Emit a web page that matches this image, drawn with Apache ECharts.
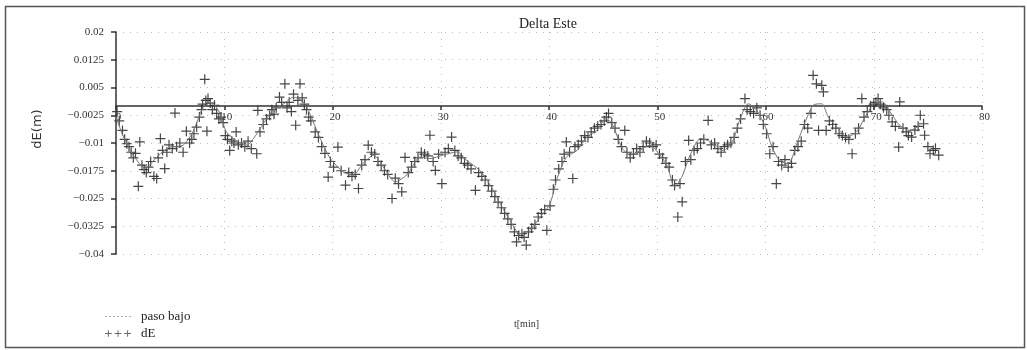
<!DOCTYPE html>
<html>
<head>
<meta charset="utf-8">
<script src="https://cdn.jsdelivr.net/npm/echarts@6/dist/echarts.min.js"></script>
<style>html,body{margin:0;padding:0;background:#fff}#c{width:1027px;height:350px}</style>
</head>
<body>
<div id="c"></div>
<script>
// Tick values / labels
var yTicks = [-0.04, -0.0325, -0.025, -0.0175, -0.01, -0.0025, 0.005, 0.0125, 0.02];
var xTicks = [0, 10, 20, 30, 40, 50, 60, 70, 80];

// Low-pass ("paso bajo") line
var pbT = [0,0.7,1.6,2.7,3.4,4.1,5.0,6.2,7.1,7.9,8.4,9.0,9.6,10.2,11.1,12.1,12.7,13.6,14.5,15.5,16.4,17.3,17.9,18.8,19.8,21.0,21.9,22.8,23.8,24.7,25.8,26.9,28.1,29.0,30.2,31.5,32.4,33.6,34.5,35.5,36.4,37.3,38.2,39.2,40.1,40.7,41.6,42.6,43.5,44.4,45.3,45.9,46.7,47.5,48.4,49.3,49.9,50.9,51.6,52.3,53.0,54.0,54.8,56.1,57.0,57.6,58.4,59.2,60.0,60.6,61.3,62.1,62.9,63.6,64.4,65.2,65.8,66.6,67.5,68.4,69.2,70.0,70.8,71.5,72.4,73.3,74.3];
var pbV = [-0.003,-0.0084,-0.0133,-0.0169,-0.0150,-0.0129,-0.0111,-0.0106,-0.0070,-0.0012,0.0011,0.0006,-0.0020,-0.0070,-0.0093,-0.0106,-0.0088,-0.0048,-0.0012,0.0006,0.0024,0.0011,-0.0020,-0.0084,-0.0142,-0.0178,-0.0187,-0.0156,-0.0133,-0.0165,-0.0205,-0.0185,-0.0138,-0.0142,-0.0133,-0.0124,-0.0147,-0.0174,-0.0210,-0.0264,-0.0309,-0.0345,-0.0336,-0.0300,-0.0264,-0.0200,-0.0138,-0.0120,-0.0084,-0.0066,-0.0034,-0.0052,-0.0111,-0.0133,-0.0120,-0.0106,-0.0120,-0.0160,-0.0218,-0.0190,-0.0135,-0.0088,-0.0095,-0.0120,-0.0093,-0.0039,0.0006,-0.0012,-0.0057,-0.0111,-0.0147,-0.0156,-0.0102,-0.0048,0.0002,0.0006,-0.0030,-0.0057,-0.0084,-0.0070,-0.0030,0.0006,0.0011,-0.0016,-0.0052,-0.0066,-0.0052];

// Raw dE samples
var dET = [0.1,0.3,0.6,0.8,1.0,1.2,1.4,1.6,1.8,2.06,2.2,2.4,2.6,2.8,3.0,3.2,3.5,3.76,3.9,4.1,4.3,4.5,4.7,4.9,5.2,5.45,5.6,5.9,6.2,6.5,6.8,7.0,7.2,7.45,7.7,7.9,8.0,8.2,8.3,8.4,8.5,8.7,8.9,9.1,9.3,9.5,9.7,9.9,10.1,10.3,10.5,10.7,10.9,11.1,11.3,11.6,11.9,12.2,12.5,13.0,13.1,13.3,13.6,13.9,14.2,14.4,14.6,14.8,15.1,15.3,15.6,15.8,16.0,16.2,16.4,16.6,16.8,17.0,17.2,17.4,17.6,17.8,18.0,18.4,18.7,19.0,19.3,19.6,19.8,20.1,20.5,20.8,21.2,21.5,21.8,22.1,22.4,22.7,23.0,23.3,23.6,23.9,24.2,24.5,24.8,25.1,25.5,25.8,26.1,26.4,26.7,27.0,27.3,27.6,27.9,28.2,28.5,28.8,29.0,29.3,29.5,29.8,30.1,30.4,30.7,31.0,31.3,31.6,31.9,32.2,32.5,32.8,33.2,33.5,33.8,34.1,34.4,34.7,35.0,35.3,35.6,35.9,36.2,36.5,36.8,37.0,37.2,37.5,37.7,37.9,38.1,38.4,38.7,39.0,39.3,39.6,39.8,40.1,40.4,40.6,40.9,41.2,41.4,41.6,41.9,42.2,42.4,42.7,43.0,43.3,43.6,43.9,44.2,44.5,44.8,45.1,45.3,45.5,45.8,46.1,46.4,46.7,47.0,47.2,47.5,47.8,48.1,48.4,48.7,49.0,49.3,49.6,49.9,50.2,50.5,50.8,51.1,51.4,51.6,51.9,52.1,52.3,52.6,52.9,53.1,53.4,53.7,54.0,54.3,54.7,55.0,55.3,55.6,55.9,56.2,56.5,56.8,57.1,57.4,57.7,58.1,58.3,58.6,58.9,59.2,59.5,59.8,60.1,60.4,60.7,61.0,61.2,61.5,61.8,62.1,62.4,62.7,63.0,63.3,63.6,63.9,64.2,64.4,64.7,64.9,65.2,65.35,65.6,65.9,66.2,66.5,66.8,67.1,67.4,67.7,68.0,68.3,68.6,68.9,69.1,69.4,69.7,70.0,70.2,70.4,70.6,70.9,71.2,71.4,71.7,72.0,72.3,72.4,72.7,73.0,73.2,73.5,73.8,74.1,74.3,74.6,74.7,75.0,75.2,75.5,75.7,76.0];
var dEV = [-0.0015,-0.0040,-0.0066,-0.0090,-0.0102,-0.0110,-0.0125,-0.0140,-0.0128,-0.0217,-0.0097,-0.0160,-0.0172,-0.0180,-0.0165,-0.0150,-0.0190,-0.0196,-0.0140,-0.0088,-0.0120,-0.0169,-0.0125,-0.0105,-0.0115,-0.0019,-0.0110,-0.0100,-0.0125,-0.0068,-0.0100,-0.0090,-0.0075,-0.0057,-0.0030,-0.0010,0.0005,0.0072,0.0015,-0.0068,0.0020,0.0008,-0.0010,0.0002,-0.0020,-0.0035,-0.0030,-0.0045,-0.0080,-0.0090,-0.0120,-0.0095,-0.0100,-0.0070,-0.0105,-0.0100,-0.0110,-0.0095,-0.0115,-0.0129,-0.0012,-0.0070,-0.0050,-0.0035,-0.0025,-0.0010,-0.0022,-0.0005,0.0024,0.0010,0.0060,-0.0005,0.0010,-0.0015,0.0032,-0.0052,0.0015,0.0060,0.0022,0.0005,-0.0010,-0.0030,-0.0040,-0.0070,-0.0085,-0.0110,-0.0128,-0.0192,-0.0150,-0.0165,-0.0111,-0.0175,-0.0214,-0.0180,-0.0190,-0.0185,-0.0223,-0.0160,-0.0145,-0.0106,-0.0125,-0.0130,-0.0150,-0.0160,-0.0175,-0.0185,-0.0250,-0.0195,-0.0210,-0.0232,-0.0139,-0.0180,-0.0165,-0.0150,-0.0140,-0.0125,-0.0130,-0.0135,-0.0079,-0.0150,-0.0174,-0.0130,-0.0210,-0.0125,-0.0115,-0.0084,-0.0120,-0.0135,-0.0140,-0.0155,-0.0160,-0.0170,-0.0228,-0.0180,-0.0190,-0.0200,-0.0215,-0.0230,-0.0245,-0.0260,-0.0275,-0.0290,-0.0305,-0.0320,-0.0340,-0.0367,-0.0350,-0.0345,-0.0355,-0.0376,-0.0340,-0.0330,-0.0320,-0.0300,-0.0290,-0.0280,-0.0336,-0.0270,-0.0225,-0.0200,-0.0170,-0.0150,-0.0130,-0.0097,-0.0125,-0.0196,-0.0110,-0.0105,-0.0095,-0.0080,-0.0085,-0.0070,-0.0060,-0.0055,-0.0050,-0.0040,-0.0030,-0.0020,-0.0045,-0.0060,-0.0090,-0.0110,-0.0066,-0.0125,-0.0140,-0.0130,-0.0115,-0.0125,-0.0110,-0.0095,-0.0100,-0.0110,-0.0105,-0.0130,-0.0140,-0.0155,-0.0165,-0.0200,-0.0215,-0.0300,-0.0210,-0.0259,-0.0150,-0.0093,-0.0145,-0.0120,-0.0115,-0.0100,-0.0090,-0.0039,-0.0105,-0.0100,-0.0115,-0.0125,-0.0110,-0.0105,-0.0100,-0.0085,-0.0060,-0.0035,0.0020,-0.0010,-0.0015,-0.0020,-0.0005,-0.0025,-0.0050,-0.0075,-0.0129,-0.0110,-0.0210,-0.0150,-0.0160,-0.0145,-0.0165,-0.0155,-0.0120,-0.0110,-0.0095,-0.0050,-0.0060,-0.0020,0.0083,0.0060,-0.0066,0.0056,0.0038,-0.0066,-0.0040,-0.0050,-0.0060,-0.0075,-0.0080,-0.0085,-0.0090,-0.0129,-0.0075,-0.0060,0.0020,-0.0030,-0.0015,0.0000,0.0005,0.0010,0.0020,0.0005,-0.0005,-0.0010,-0.0025,-0.0043,-0.0055,-0.0111,0.0011,-0.0060,-0.0070,-0.0080,-0.0084,-0.0065,-0.0055,-0.0025,-0.0048,-0.0079,-0.0110,-0.0129,-0.0120,-0.0115,-0.0133];

var SERIF = '"Liberation Serif","DejaVu Serif",serif';
var plusPath = 'path://M4.4,0h1.2v4.4h4.4v1.2h-4.4v4.4h-1.2v-4.4h-4.4v-1.2h4.4z';
var plus3Path = 'path://M3,0h1v3h3v1h-3v3h-1v-3h-3v-1h3z M13,0h1v3h3v1h-3v3h-1v-3h-3v-1h3z M23,0h1v3h3v1h-3v3h-1v-3h-3v-1h3z';
var dashPath = 'path://M0,0h1.5v1h-1.5z M4,0h1.5v1h-1.5z M8,0h1.5v1h-1.5z M12,0h1.5v1h-1.5z M16,0h1.5v1h-1.5z M20,0h1.5v1h-1.5z M24,0h1.5v1h-1.5z';

function fmtY(v) {
  var s = String(Math.round(v * 10000) / 10000);
  return s.charAt(0) === '-' ? '\u2212' + s.slice(1) : s;
}

var GRID_TOP = 32, GRID_BOTTOM = 96, CHART_H = 350;
var yMin = yTicks[0], yMax = yTicks[yTicks.length - 1];
// pixel distance from grid bottom up to the value 0 (where the x axis sits)
var plotH = CHART_H - GRID_TOP - GRID_BOTTOM;
var zeroOffset = -plotH * (0 - yMin) / (yMax - yMin);

var chart = echarts.init(document.getElementById('c'), null, {renderer: 'canvas'});
chart.setOption({
  animation: false,
  backgroundColor: '#fff',
  title: {
    text: 'Delta Este', left: 514, top: 12,
    textStyle: {fontFamily: SERIF, fontSize: 14, fontWeight: 'normal', color: '#222'}
  },
  graphic: [{
    type: 'rect', left: 3, top: 4, silent: true,
    shape: {width: 1019, height: 341},
    style: {fill: 'none', stroke: '#555', lineWidth: 1.5}
  }, {
    type: 'text', left: 514, top: 319, silent: true,
    style: {text: 't[min]', fontFamily: SERIF, fontSize: 10, fill: '#333'}
  }],
  legend: {
    orient: 'vertical', left: 100, top: 305, itemGap: 4,
    itemWidth: 26, itemHeight: 7,
    textStyle: {fontFamily: SERIF, fontSize: 13, color: '#222', padding: [0, 0, 0, 5]},
    data: [
      {name: 'paso bajo', icon: dashPath, itemStyle: {color: '#999'}},
      {name: 'dE', icon: plus3Path, itemStyle: {color: '#555'}}
    ]
  },
  grid: {left: 116, right: 45, top: GRID_TOP, bottom: GRID_BOTTOM, containLabel: false, outerBoundsMode: 'none'},
  xAxis: {
    type: 'value', min: xTicks[0], max: xTicks[xTicks.length - 1], interval: 10,
    position: 'bottom', offset: zeroOffset,
    axisLine: {onZero: false, lineStyle: {color: '#333', width: 1.5}},
    axisTick: {show: true, inside: false, length: 4, lineStyle: {color: '#333', width: 1.5}},
    axisLabel: {fontFamily: SERIF, fontSize: 11, color: '#333', margin: 6, padding: [0, 0, 0, 5]},
    splitLine: {show: true, lineStyle: {type: [1, 6], color: '#bbb'}}
  },
  yAxis: {
    type: 'value', min: yMin, max: yMax,
    name: 'dE(m)', nameLocation: 'middle', nameGap: 72, nameRotate: 90,
    nameTextStyle: {fontFamily: '"DejaVu Sans",sans-serif', fontSize: 13, color: '#333', padding: [0, 0, 0, 28]},
    axisLine: {show: true, onZero: false, lineStyle: {color: '#333', width: 1.5}},
    axisTick: {show: true, length: 5, customValues: yTicks, lineStyle: {color: '#333', width: 1.5}},
    axisLabel: {customValues: yTicks, fontFamily: SERIF, fontSize: 11, color: '#333', margin: 12, formatter: fmtY},
    splitLine: {show: true, lineStyle: {type: [1, 6], color: '#bbb'}}
  },
  series: [
    {
      name: 'paso bajo', type: 'line', smooth: 0.25, showSymbol: false, z: 3,
      lineStyle: {color: '#777', width: 1},
      itemStyle: {color: '#777'},
      data: pbT.map(function (t, i) { return [t, pbV[i]]; })
    },
    {
      name: 'dE', type: 'scatter', symbol: plusPath, symbolSize: 10, z: 2,
      itemStyle: {color: '#333', opacity: 0.9},
      data: dET.map(function (t, i) { return [t, dEV[i]]; })
    }
  ]
});
</script>
</body>
</html>
